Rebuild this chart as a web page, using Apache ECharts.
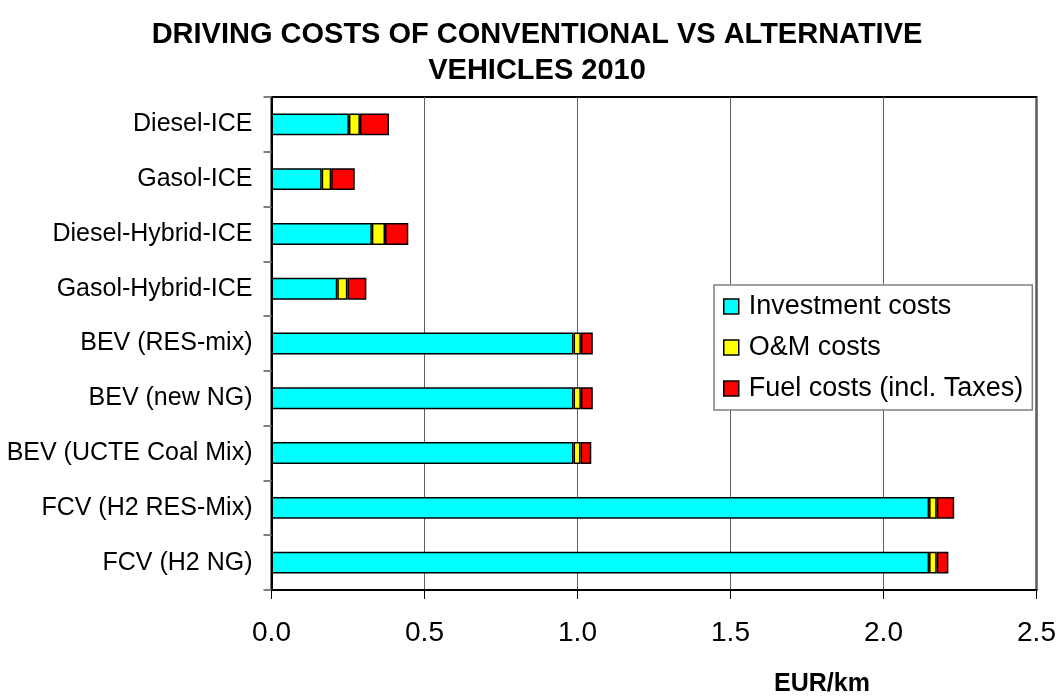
<!DOCTYPE html>
<html>
<head>
<meta charset="utf-8">
<script src="https://cdn.jsdelivr.net/npm/echarts@6/dist/echarts.min.js"></script>
<style>
  html, body { margin: 0; padding: 0; background: #fff; }
  #chart { width: 1062px; height: 696px; }
</style>
</head>
<body>
<div id="chart"></div>
<script>
// Vehicle types, top to bottom
const vehicles = [
  'Diesel-ICE',
  'Gasol-ICE',
  'Diesel-Hybrid-ICE',
  'Gasol-Hybrid-ICE',
  'BEV (RES-mix)',
  'BEV (new NG)',
  'BEV (UCTE Coal Mix)',
  'FCV (H2 RES-Mix)',
  'FCV (H2 NG)'
];

// Cost components, EUR/km
const investmentCosts = [0.253, 0.164, 0.328, 0.215, 0.987, 0.987, 0.987, 2.149, 2.149];
const omCosts         = [0.036, 0.031, 0.043, 0.033, 0.024, 0.024, 0.023, 0.025, 0.025];
const fuelCosts       = [0.095, 0.077, 0.076, 0.062, 0.039, 0.039, 0.035, 0.057, 0.038];

const seriesNames = ['Investment costs', 'O&M costs', 'Fuel costs (incl. Taxes)'];
const seriesColors = ['#00FFFF', '#FFFF00', '#FF0000'];
const seriesValues = [investmentCosts, omCosts, fuelCosts];

const FONT = 'Arial, "Liberation Sans", Helvetica, sans-serif';

const chart = echarts.init(document.getElementById('chart'), null, { renderer: 'canvas' });

chart.setOption({
  backgroundColor: '#ffffff',
  animation: false,
  title: {
    text: 'DRIVING COSTS OF CONVENTIONAL VS ALTERNATIVE\nVEHICLES 2010',
    left: 532,
    top: 12,
    textAlign: 'center',
    textStyle: {
      fontFamily: FONT,
      fontWeight: 'bold',
      fontSize: 29,
      lineHeight: 36,
      color: '#000'
    }
  },
  legend: {
    orient: 'vertical',
    left: 714,
    top: 285,
    padding: [8, 9, 8, 9],
    itemWidth: 15,
    itemHeight: 15,
    itemGap: 14,
    backgroundColor: '#fff',
    borderColor: '#808080',
    borderWidth: 1.5,
    borderRadius: 0,
    icon: 'rect',
    textStyle: {
      fontFamily: FONT,
      fontSize: 27,
      lineHeight: 27,
      color: '#000',
      padding: [0, 0, 0, 5]
    },
    itemStyle: { borderColor: '#000', borderWidth: 1.5 },
    data: seriesNames
  },
  grid: {
    left: 271.5,
    right: 25.5,
    top: 97,
    bottom: 106,
    show: true,
    borderColor: '#000',
    borderWidth: 2,
    containLabel: false,
    outerBoundsMode: 'none'
  },
  xAxis: {
    type: 'value',
    min: 0,
    max: 2.5,
    interval: 0.5,
    name: 'EUR/km',
    nameLocation: 'middle',
    nameGap: 82,
    nameTextStyle: {
      fontFamily: FONT,
      fontWeight: 'bold',
      fontSize: 25,
      color: '#000',
      padding: [0, 0, 0, 336]
    },
    axisLine: { show: true, lineStyle: { color: '#000', width: 2 } },
    axisTick: { show: true, inside: false, length: 9, lineStyle: { color: '#000', width: 1 } },
    axisLabel: {
      fontFamily: FONT,
      fontSize: 28,
      color: '#000',
      margin: 29,
      formatter: v => v.toFixed(1)
    },
    splitLine: { show: true, lineStyle: { color: '#606060', width: 1 } }
  },
  yAxis: {
    type: 'category',
    inverse: true,
    data: vehicles,
    axisLine: { show: true, lineStyle: { color: '#000', width: 2 } },
    axisTick: { show: true, inside: false, length: 8, alignWithLabel: false, lineStyle: { color: '#808080', width: 2 } },
    axisLabel: {
      fontFamily: FONT,
      fontSize: 25,
      color: '#000',
      margin: 19
    },
    splitLine: { show: false }
  },
  series: seriesNames.map((name, i) => ({
    name,
    type: 'bar',
    stack: 'cost',
    barWidth: '40%',
    data: seriesValues[i],
    itemStyle: {
      color: seriesColors[i],
      borderColor: '#000',
      borderWidth: 1.5
    },
    emphasis: { disabled: true }
  }))
});
</script>
</body>
</html>
